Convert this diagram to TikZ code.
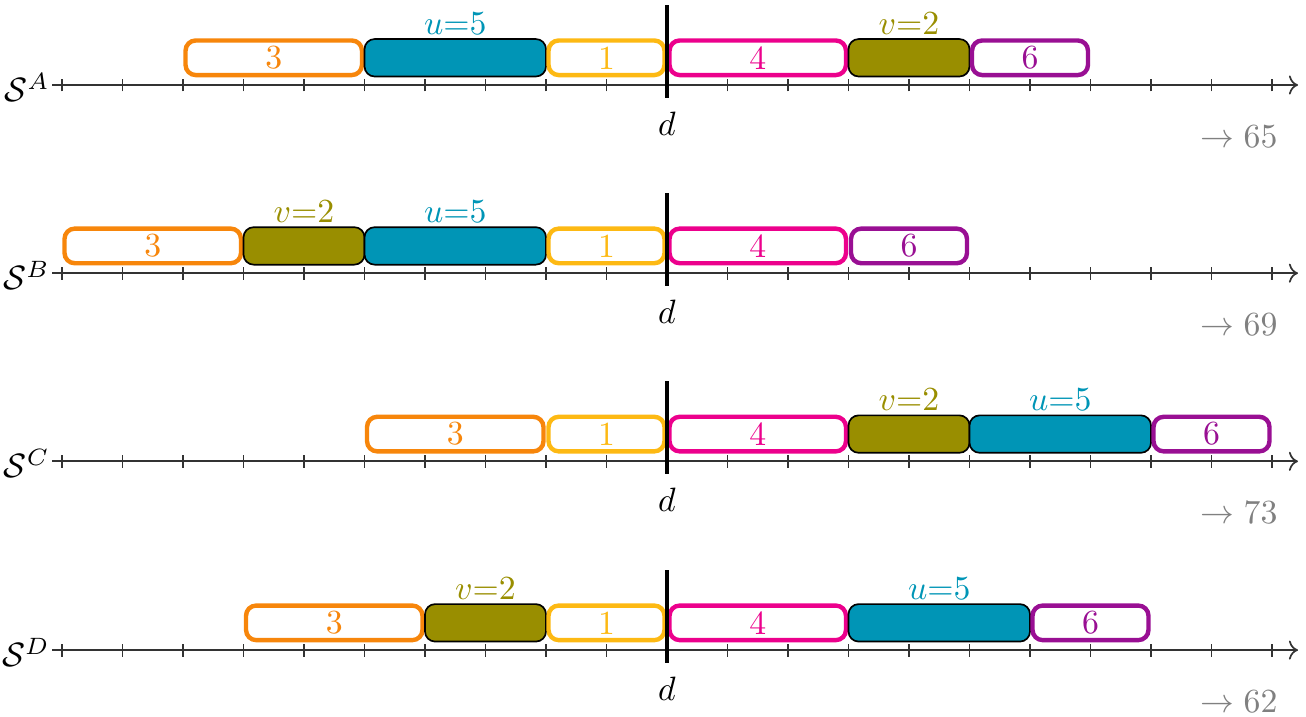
\documentclass[tikz,border=0pt]{standalone}
\usepackage{amsmath}
\usepackage{amssymb}
\usepackage{xcolor}
\usepackage{tikz}
\usetikzlibrary{positioning, arrows.meta, calc}
\definecolor{jorange}{HTML}{F7860B}
\definecolor{jyellow}{HTML}{FDB913}
\definecolor{jmagenta}{HTML}{EC008C}
\definecolor{jpurple}{HTML}{990F93}
\definecolor{jolive}{HTML}{998E00}
\definecolor{jblue}{HTML}{0095B6}
\newcommand{\tk}{0.63cm}
\tikzset{
  job/.style 2 args={draw=#1, text=#1, fill=white, line width=1.3pt, rounded corners=3pt,
                     minimum width=#2*\tk-1.5pt, minimum height=3.6mm, inner sep=0pt},
  hog/.style 2 args={draw, fill=#1, line width=0.5pt, rounded corners=3pt,
                     minimum width=#2*\tk, minimum height=3.9mm, inner sep=0pt},
  lbl/.style       ={inner sep=1pt},
  ujob/.style      ={hog={jblue}{3}, label={[lbl, text=jblue]above:$u{=}5$}},
  vjob/.style      ={hog={jolive}{2}, label={[lbl, text=jolive]above:$v{=}2$}},
  axis/.style      ={-{To}, black!80, line width=0.5pt},
  tickmark/.style  ={black!80, line width=0.5pt},
  cut/.style       ={line width=1.3pt},
  score/.style     ={text=gray, anchor=base east, inner sep=0pt},
}
% axis, ticks, deadline and total of one schedule
\newcommand{\timeline}[2]{%
  \coordinate (#1o) at (-0.165,0);
  \coordinate (#1e) at (20.43,0);
  \coordinate (#1top) at (10,1.32);
  \coordinate (#1bot) at (10,-0.215);
  \node[anchor=east, inner sep=0pt] (#1S) at ($(#1o)+(-0.03,-0.04)$) {$\mathcal{S}^{#1}$};
  \draw[axis] (#1o) -- (#1e);
  \foreach \k in {0,...,20} \draw[tickmark] (\k,-0.107) -- (\k,0.107);
  \draw[cut] (#1top) -- (#1bot);
  \node[anchor=base] (#1d) at (10,-0.83) {$d$};
  \node[score] (#1t) at (20.1,-1.025) {$\rightarrow #2$};
}

\begin{document}
\begin{tikzpicture}[x=\tk, y=\tk]
  \useasboundingbox (-1.025,1.405) rectangle (20.562,-10.446);

  % S^A
  \begin{scope}
    \node[job={jorange}{3}]  (A3) at (3.5,0.45)  {3};
    \node[ujob]              (Au) at (6.5,0.45)  {};
    \node[job={jyellow}{2}]  (A1) at (9,0.45)    {1};
    \node[job={jmagenta}{3}] (A4) at (11.5,0.45) {4};
    \node[vjob]              (Av) at (14,0.45)   {};
    \node[job={jpurple}{2}]  (A6) at (16,0.45)   {6};
    \timeline{A}{65}
  \end{scope}

  % S^B
  \begin{scope}[yshift=-3.11*\tk]
    \node[job={jorange}{3}]  (B3) at (1.5,0.45)  {3};
    \node[vjob]              (Bv) at (4,0.45)    {};
    \node[ujob]              (Bu) at (6.5,0.45)  {};
    \node[job={jyellow}{2}]  (B1) at (9,0.45)    {1};
    \node[job={jmagenta}{3}] (B4) at (11.5,0.45) {4};
    \node[job={jpurple}{2}]  (B6) at (14,0.45)   {6};
    \timeline{B}{69}
  \end{scope}

  % S^C
  \begin{scope}[yshift=-6.22*\tk]
    \node[job={jorange}{3}]  (C3) at (6.5,0.45)  {3};
    \node[job={jyellow}{2}]  (C1) at (9,0.45)    {1};
    \node[job={jmagenta}{3}] (C4) at (11.5,0.45) {4};
    \node[vjob]              (Cv) at (14,0.45)   {};
    \node[ujob]              (Cu) at (16.5,0.45) {};
    \node[job={jpurple}{2}]  (C6) at (19,0.45)   {6};
    \timeline{C}{73}
  \end{scope}

  % S^D
  \begin{scope}[yshift=-9.34*\tk]
    \node[job={jorange}{3}]  (D3) at (4.5,0.45)  {3};
    \node[vjob]              (Dv) at (7,0.45)    {};
    \node[job={jyellow}{2}]  (D1) at (9,0.45)    {1};
    \node[job={jmagenta}{3}] (D4) at (11.5,0.45) {4};
    \node[ujob]              (Du) at (14.5,0.45) {};
    \node[job={jpurple}{2}]  (D6) at (17,0.45)   {6};
    \timeline{D}{62}
  \end{scope}
\end{tikzpicture}
\end{document}
